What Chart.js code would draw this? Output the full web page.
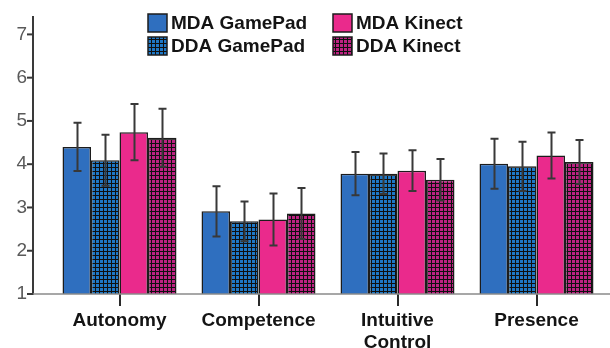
<!DOCTYPE html>
<html>
<head>
<meta charset="utf-8">
<script src="https://cdn.jsdelivr.net/npm/chart.js@4/dist/chart.umd.min.js"></script>
<style>
  html, body { margin: 0; padding: 0; background: #ffffff; }
  #wrap { width: 610px; height: 348px; }
</style>
</head>
<body>
<div id="wrap"><canvas id="chart" width="610" height="348"></canvas></div>
<script>
// Categories on the horizontal axis
const categories = ['Autonomy', 'Competence', ['Intuitive', 'Control'], 'Presence'];

// Series names
const seriesNames = ['MDA GamePad', 'DDA GamePad', 'MDA Kinect', 'DDA Kinect'];

// Mean scores per category
const mdaGamePad = [4.40, 2.91, 3.78, 4.01];
const ddaGamePad = [4.09, 2.68, 3.78, 3.95];
const mdaKinect  = [4.74, 2.72, 3.85, 4.20];
const ddaKinect  = [4.61, 2.86, 3.64, 4.05];

// Error bar half-lengths per category
const mdaGamePadErr = [0.56, 0.58, 0.50, 0.58];
const ddaGamePadErr = [0.59, 0.46, 0.47, 0.57];
const mdaKinectErr  = [0.65, 0.60, 0.47, 0.53];
const ddaKinectErr  = [0.67, 0.59, 0.48, 0.51];

// Y axis ticks
const yTicks = [1, 2, 3, 4, 5, 6, 7];

const BLUE = '#2f6fbf';
const PINK = '#ea2a8c';
const OUTLINE = '#1c1c1c';

// Checkered fill: coloured squares separated by thin dark lines (period 4px)
function checkPattern(color) {
  const c = document.createElement('canvas');
  c.width = 4; c.height = 4;
  const g = c.getContext('2d');
  g.fillStyle = '#101010';
  g.fillRect(0, 0, 4, 4);
  g.fillStyle = color;
  g.fillRect(0, 0, 3, 3);
  return g.createPattern(c, 'repeat');
}
const ctx = document.getElementById('chart').getContext('2d');
const blueCheck = checkPattern('#1f78c6');
const pinkCheck = checkPattern('#bd2282');

const fills = [BLUE, blueCheck, PINK, pinkCheck];
const values = [mdaGamePad, ddaGamePad, mdaKinect, ddaKinect];
const errors = [mdaGamePadErr, ddaGamePadErr, mdaKinectErr, ddaKinectErr];

const AXIS_X = 33;
const FONT = '"Liberation Sans", Arial, sans-serif';

// Draws the detached y axis line, its tick marks and the baseline extension
const axisLines = {
  id: 'axisLines',
  afterDraw(chart) {
    const g = chart.ctx;
    const y = chart.scales.y;
    const area = chart.chartArea;
    g.save();
    g.strokeStyle = '#3a3a3a';
    g.lineWidth = 2;
    g.beginPath();
    g.moveTo(AXIS_X, 16);
    g.lineTo(AXIS_X, area.bottom + 1);
    g.stroke();
    yTicks.forEach(v => {
      const py = y.getPixelForValue(v);
      g.beginPath();
      g.moveTo(AXIS_X - 6, py);
      g.lineTo(AXIS_X, py);
      g.stroke();
    });
    g.strokeStyle = '#8a8a8a';
    g.lineWidth = 1.5;
    g.beginPath();
    g.moveTo(AXIS_X, area.bottom);
    g.lineTo(chart.width, area.bottom);
    g.stroke();
    g.restore();
  }
};

// Error bars with caps, drawn over the bars
const errorBars = {
  id: 'errorBars',
  afterDatasetsDraw(chart) {
    const g = chart.ctx;
    const y = chart.scales.y;
    g.save();
    g.strokeStyle = '#383838';
    g.lineWidth = 2;
    chart.data.datasets.forEach((ds, di) => {
      const meta = chart.getDatasetMeta(di);
      meta.data.forEach((bar, i) => {
        const v = ds.data[i];
        const e = errors[di][i];
        const top = y.getPixelForValue(v + e);
        const bot = y.getPixelForValue(v - e);
        const x = Math.round(bar.x) + 0.5;
        g.beginPath();
        g.moveTo(x, top);
        g.lineTo(x, bot);
        g.moveTo(x - 4, top);
        g.lineTo(x + 4, top);
        g.moveTo(x - 4, bot);
        g.lineTo(x + 4, bot);
        g.stroke();
      });
    });
    g.restore();
  }
};

// Two-column legend in the upper part of the plot
const boxLegend = {
  id: 'boxLegend',
  afterDraw(chart) {
    const g = chart.ctx;
    const cols = [148, 333];
    const rows = [14, 37];
    const order = [[0, 0, 0], [1, 0, 1], [2, 1, 0], [3, 1, 1]];
    g.save();
    g.font = 'bold 19px ' + FONT;
    g.textBaseline = 'middle';
    g.textAlign = 'left';
    order.forEach(([si, ci, ri]) => {
      const bx = cols[ci], by = rows[ri];
      g.fillStyle = fills[si];
      g.fillRect(bx, by, 19, 18);
      g.strokeStyle = OUTLINE;
      g.lineWidth = 1.5;
      g.strokeRect(bx, by, 19, 18);
      g.fillStyle = '#141414';
      g.fillText(seriesNames[si], bx + 23, by + 10);
    });
    g.restore();
  }
};

new Chart(ctx, {
  type: 'bar',
  data: {
    labels: categories,
    datasets: seriesNames.map((name, i) => ({
      label: name,
      data: values[i],
      backgroundColor: fills[i],
      borderColor: OUTLINE,
      borderWidth: 1.5,
      barPercentage: 1.0,
      categoryPercentage: 0.82
    }))
  },
  options: {
    responsive: false,
    animation: false,
    layout: { padding: { top: 30, right: 4, left: 0, bottom: 0 } },
    plugins: {
      legend: { display: false },
      tooltip: { enabled: false }
    },
    scales: {
      x: {
        offset: true,
        grid: {
          display: true,
          drawOnChartArea: false,
          drawTicks: true,
          tickLength: 12,
          offset: false,
          color: '#2a2a2a',
          lineWidth: 2
        },
        border: { display: false },
        ticks: {
          color: '#141414',
          font: { family: FONT, size: 19, weight: 'bold' },
          padding: 3,
          maxRotation: 0,
          autoSkip: false
        },
        afterFit(scale) { scale.height = 348 - 294; }
      },
      y: {
        min: 1,
        max: 7,
        grid: { display: false, drawTicks: false },
        border: { display: false },
        ticks: {
          stepSize: 1,
          color: '#5a5a5a',
          padding: 23,
          font: { family: FONT, size: 19 }
        },
        afterBuildTicks(scale) { scale.ticks = yTicks.map(v => ({ value: v })); },
        afterFit(scale) { scale.width = 50; }
      }
    }
  },
  plugins: [errorBars, axisLines, boxLegend]
});
</script>
</body>
</html>
